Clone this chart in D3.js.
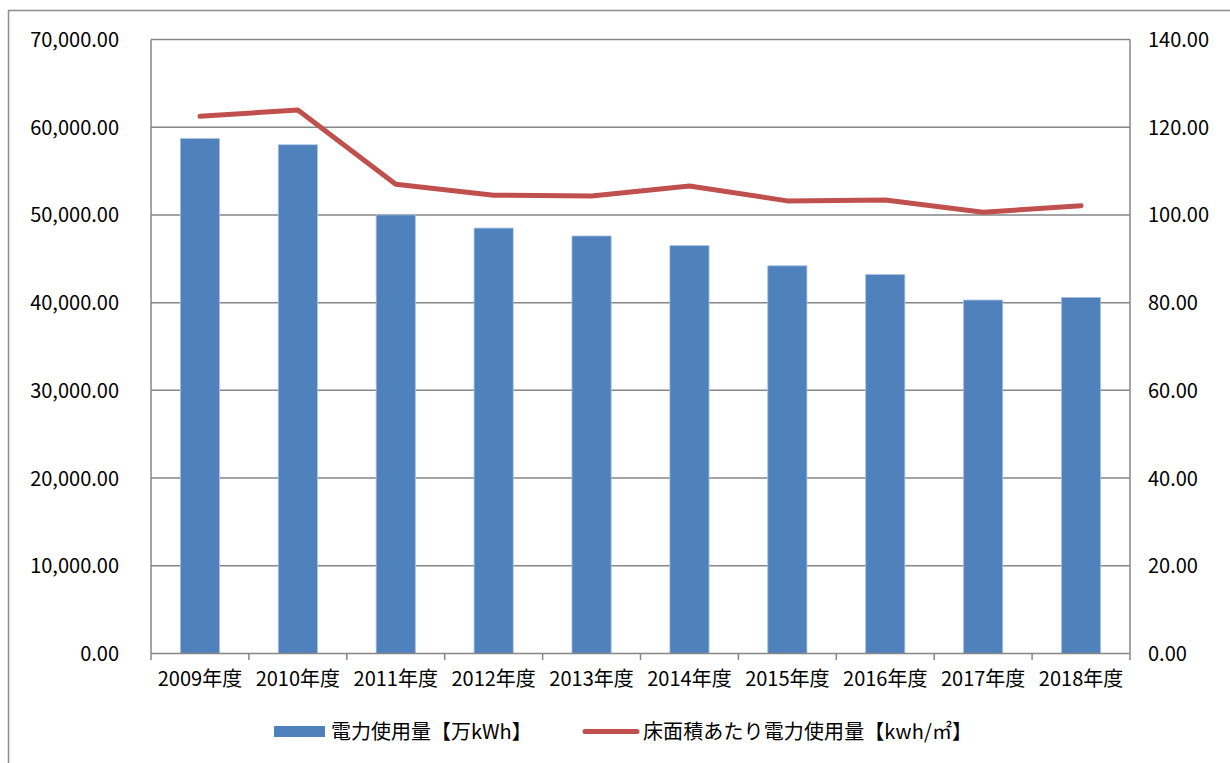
<!DOCTYPE html>
<html>
<head>
<meta charset="utf-8">
<script src="https://cdn.jsdelivr.net/npm/d3@7"></script>
<style>
  html, body { margin: 0; padding: 0; background: #fff; }
  svg { display: block; }
  text { font-family: "Noto Sans CJK JP", "Noto Sans", sans-serif; fill: #000; }
</style>
</head>
<body>
<svg id="chart" width="1230" height="763"></svg>
<script>
'use strict';

// Data.
var categories = ['2009年度', '2010年度', '2011年度', '2012年度', '2013年度',
  '2014年度', '2015年度', '2016年度', '2017年度', '2018年度'];
var usage = [58700, 58000, 50000, 48500, 47600, 46500, 44200, 43200, 40300, 40600];
var perArea = [122.5, 123.9, 107.0, 104.5, 104.3, 106.6, 103.2, 103.4, 100.6, 102.1];
var leftTicks = [0, 10000, 20000, 30000, 40000, 50000, 60000, 70000];
var rightTicks = [0, 20, 40, 60, 80, 100, 120, 140];
var legendLabels = ['電力使用量【万kWh】', '床面積あたり電力使用量【kwh/㎡】'];

var colors = {
  bar: '#4f81bd',
  barEdge: '#a9c1df',
  line: '#c0504d',
  grid: '#868686',
  frame: '#8c8c8c'
};

var plot = { left: 151, right: 1130, top: 39.5, bottom: 653.5 };

var svg = d3.select('#chart');

var fmt = d3.format(',.2f');

var x = d3.scaleBand()
  .domain(categories)
  .range([plot.left, plot.right])
  .paddingInner(0.6)
  .paddingOuter(0.3);

var xCat = d3.scaleBand()
  .domain(categories)
  .range([plot.left, plot.right]);

var yLeft = d3.scaleLinear()
  .domain([0, 70000])
  .range([plot.bottom, plot.top]);

var yRight = d3.scaleLinear()
  .domain([0, 140])
  .range([plot.bottom, plot.top]);

// Outer chart frame (runs off the right and bottom edges).
svg.append('rect')
  .attr('x', 8.5)
  .attr('y', 10.5)
  .attr('width', 1240)
  .attr('height', 800)
  .attr('fill', '#fff')
  .attr('stroke', colors.frame)
  .attr('stroke-width', 1.5);

// Gridlines
svg.append('g')
  .attr('class', 'grid')
  .selectAll('line')
  .data(leftTicks.filter(function(d) { return d > 0; }))
  .join('line')
  .attr('x1', plot.left)
  .attr('x2', plot.right)
  .attr('y1', function(d) { return yLeft(d); })
  .attr('y2', function(d) { return yLeft(d); })
  .attr('stroke', colors.grid)
  .attr('stroke-width', 1.5);

// Bars
svg.append('g')
  .attr('class', 'bars')
  .selectAll('rect')
  .data(usage)
  .join('rect')
  .attr('x', function(d, i) { return x(categories[i]); })
  .attr('y', function(d) { return yLeft(d); })
  .attr('width', x.bandwidth())
  .attr('height', function(d) { return plot.bottom - yLeft(d); })
  .attr('fill', colors.bar)
  .attr('stroke', colors.barEdge)
  .attr('stroke-width', 0.8);

// Left axis: labels only, no ticks.
var leftAxis = d3.axisLeft(yLeft)
  .tickValues(leftTicks)
  .tickFormat(fmt)
  .tickSize(0)
  .tickPadding(32);

var gl = svg.append('g')
  .attr('transform', 'translate(' + plot.left + ',0)')
  .call(leftAxis);
gl.select('.domain').remove();
gl.selectAll('text')
  .attr('font-size', 20)
  .attr('dy', '0.35em')
  .style('font-family', '"Noto Sans CJK JP", sans-serif');

// Right axis
var rightAxis = d3.axisRight(yRight)
  .tickValues(rightTicks)
  .tickFormat(fmt)
  .tickSize(0)
  .tickPadding(18);

var gr = svg.append('g')
  .attr('transform', 'translate(' + plot.right + ',0)')
  .call(rightAxis);
gr.select('.domain').remove();
gr.selectAll('text')
  .attr('font-size', 20)
  .attr('dy', '0.35em')
  .style('font-family', '"Noto Sans CJK JP", sans-serif');

// Bottom axis with boundary ticks.
var bottomAxis = d3.axisBottom(xCat)
  .tickSize(0)
  .tickPadding(16);

var gb = svg.append('g')
  .attr('transform', 'translate(0,' + plot.bottom + ')')
  .call(bottomAxis);
gb.select('.domain').remove();
gb.selectAll('text')
  .attr('font-size', 20)
  .attr('dy', '0.8em')
  .style('font-family', '"Noto Sans CJK JP", sans-serif');

var boundaries = categories.map(function(c) { return xCat(c); })
  .concat([plot.right]);

svg.append('g')
  .selectAll('line')
  .data(boundaries)
  .join('line')
  .attr('x1', function(d) { return d; })
  .attr('x2', function(d) { return d; })
  .attr('y1', plot.bottom)
  .attr('y2', plot.bottom + 6.5)
  .attr('stroke', colors.grid)
  .attr('stroke-width', 1.5);

// Axis lines (left, right, bottom)
var frame = svg.append('g').attr('stroke', colors.grid).attr('stroke-width', 1.5);
frame.append('line')
  .attr('x1', plot.left).attr('x2', plot.left)
  .attr('y1', plot.top).attr('y2', plot.bottom);
frame.append('line')
  .attr('x1', plot.right).attr('x2', plot.right)
  .attr('y1', plot.top).attr('y2', plot.bottom);
frame.append('line')
  .attr('x1', plot.left).attr('x2', plot.right)
  .attr('y1', plot.bottom).attr('y2', plot.bottom);

// Line series
var line = d3.line()
  .x(function(d, i) { return xCat(categories[i]) + xCat.bandwidth() / 2; })
  .y(function(d) { return yRight(d); });

svg.append('path')
  .datum(perArea)
  .attr('d', line)
  .attr('fill', 'none')
  .attr('stroke', colors.line)
  .attr('stroke-width', 5)
  .attr('stroke-linecap', 'round')
  .attr('stroke-linejoin', 'round');

// Legend
var legend = svg.append('g').attr('class', 'legend');

legend.append('rect')
  .attr('x', 274)
  .attr('y', 726)
  .attr('width', 51)
  .attr('height', 11)
  .attr('fill', colors.bar);

legend.append('text')
  .attr('x', 331)
  .attr('y', 731.5)
  .attr('dy', '0.35em')
  .attr('font-size', 20)
  .text(legendLabels[0]);

legend.append('line')
  .attr('x1', 585)
  .attr('x2', 637)
  .attr('y1', 731.5)
  .attr('y2', 731.5)
  .attr('stroke', colors.line)
  .attr('stroke-width', 5)
  .attr('stroke-linecap', 'round');

legend.append('text')
  .attr('x', 643)
  .attr('y', 731.5)
  .attr('dy', '0.35em')
  .attr('font-size', 20)
  .attr('textLength', 329)
  .attr('lengthAdjust', 'spacing')
  .text(legendLabels[1]);
</script>
</body>
</html>
